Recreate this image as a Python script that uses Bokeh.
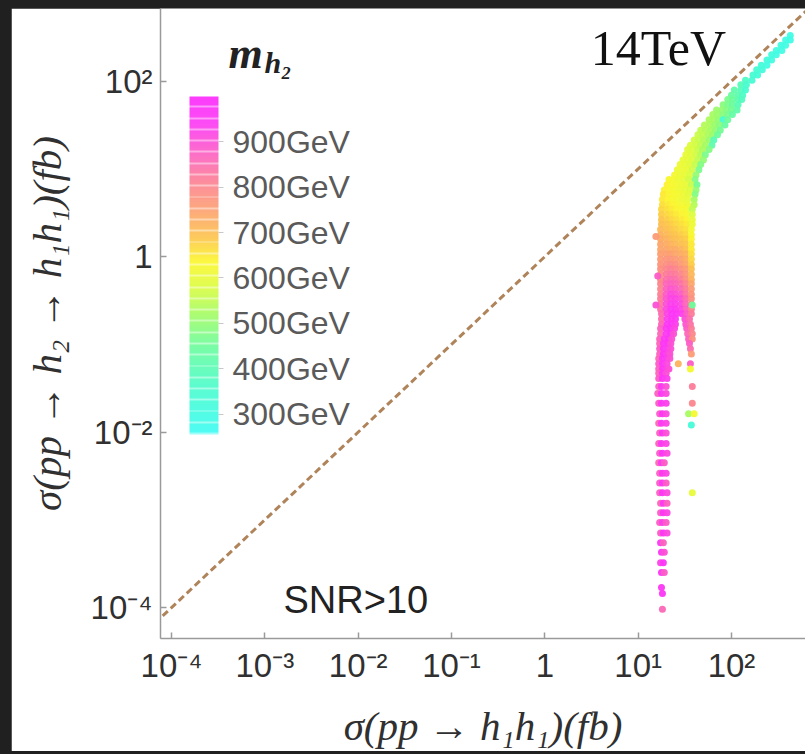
from bokeh.plotting import figure
from bokeh.layouts import column
from bokeh.models import (LinearColorMapper, ColorBar, FixedTicker, Slope, Label,
                          ColumnDataSource, Range1d)
from bokeh.embed import file_html
from bokeh.resources import INLINE

# ---------------- data ----------------
X_TICKS = [1e-4, 1e-3, 1e-2, 1e-1, 1, 10, 100]
X_TICK_LABELS = ["10⁻⁴", "10⁻³", "10⁻²", "10⁻¹", "1", "10¹", "10²"]
Y_TICKS = [1e-4, 1e-2, 1, 100]
Y_TICK_LABELS = ["10⁻⁴", "10⁻²", "1", "10²"]
CBAR_TICKS = [300, 400, 500, 600, 700, 800, 900]
CBAR_LABELS = ["300GeV", "400GeV", "500GeV", "600GeV", "700GeV", "800GeV", "900GeV"]
MASS_LOW, MASS_HIGH = 255, 1000

# scan points, grouped in rows of equal log10(sigma(pp->h2->h1h1)/fb)
rows_log10_sigma_h2 = [
    2.52, 2.47, 2.41, 2.35, 2.30, 2.24, 2.18, 2.13, 2.07, 2.01,
    1.96, 1.90, 1.84, 1.79, 1.73, 1.67, 1.62, 1.56, 1.50, 1.44,
    1.39, 1.33, 1.27, 1.22, 1.16, 1.10, 1.05, 0.99, 0.93, 0.88,
    0.82, 0.76, 0.71, 0.65, 0.59, 0.54, 0.48, 0.42, 0.37, 0.31,
    0.25, 0.20, 0.14, 0.08, 0.03, -0.03, -0.09, -0.14, -0.20, -0.26,
    -0.31, -0.37, -0.43, -0.48, -0.54, -0.60, -0.65, -0.71, -0.77, -0.82,
    -0.88, -0.94, -0.99, -1.05, -1.11, -1.16, -1.22, -1.28, -1.33, -1.39,
    -1.48, -1.56, -1.67, -1.79, -1.90, -1.92, -2.01, -2.13, -2.24, -2.35,
    -2.47, -2.58, -2.69, -2.81, -2.92, -3.03, -3.15, -3.26, -3.37, -3.49,
    -3.60, -3.77, -3.84, -4.02, 0.23, -0.22, -0.55,
]
# log10(sigma(pp->h1h1)/fb) of the points in each row
rows_log10_sigma_hh = [
    [2.63], [2.58, 2.63], [2.53, 2.58], [2.48, 2.54], [2.43, 2.48],
    [2.38, 2.43], [2.32, 2.38], [2.27, 2.33], [2.23, 2.28], [2.15, 2.22],
    [2.10, 2.16], [2.03, 2.10, 2.15], [2.00, 2.07, 2.12], [1.96, 2.01, 2.07, 2.11],
    [1.91, 1.96, 2.01, 2.07], [1.84, 1.90, 1.95, 2.00, 2.06], [1.80, 1.85, 1.91, 1.96, 2.01],
    [1.76, 1.81, 1.86, 1.91, 1.96], [1.71, 1.77, 1.82, 1.87, 1.93], [1.67, 1.72, 1.78, 1.83, 1.88],
    [1.64, 1.69, 1.75, 1.80, 1.85], [1.60, 1.65, 1.70, 1.76, 1.81], [1.56, 1.62, 1.67, 1.72, 1.79],
    [1.53, 1.58, 1.64, 1.69, 1.76], [1.51, 1.56, 1.62, 1.67, 1.72], [1.48, 1.53, 1.58, 1.64, 1.70],
    [1.45, 1.50, 1.55, 1.61, 1.67], [1.42, 1.48, 1.53, 1.58, 1.65], [1.39, 1.45, 1.50, 1.55, 1.62],
    [1.33, 1.38, 1.43, 1.49, 1.54, 1.61],
    [1.31, 1.36, 1.41, 1.47, 1.52, 1.57, 1.63],
    [1.28, 1.34, 1.39, 1.45, 1.50, 1.55, 1.62],
    [1.27, 1.33, 1.38, 1.43, 1.49, 1.54, 1.61],
    [1.26, 1.32, 1.37, 1.42, 1.48, 1.53, 1.60],
    [1.26, 1.32, 1.37, 1.42, 1.48, 1.53, 1.60],
    [1.25, 1.31, 1.36, 1.41, 1.47, 1.52, 1.58],
    [1.25, 1.31, 1.36, 1.41, 1.47, 1.52, 1.58],
    [1.25, 1.31, 1.36, 1.41, 1.47, 1.52, 1.58],
    [1.25, 1.31, 1.36, 1.41, 1.47, 1.52, 1.58],
    [1.24, 1.30, 1.35, 1.40, 1.46, 1.51, 1.57],
    [1.24, 1.30, 1.35, 1.40, 1.46, 1.51, 1.57],
    [1.24, 1.30, 1.35, 1.40, 1.46, 1.51, 1.57],
    [1.24, 1.30, 1.35, 1.40, 1.46, 1.51, 1.57],
    [1.24, 1.30, 1.35, 1.40, 1.46, 1.51, 1.57],
    [1.24, 1.30, 1.35, 1.40, 1.46, 1.51, 1.57],
    [1.24, 1.30, 1.35, 1.40, 1.46, 1.51, 1.57],
    [1.24, 1.30, 1.35, 1.40, 1.46, 1.51, 1.57],
    [1.24, 1.30, 1.35, 1.40, 1.46, 1.51, 1.57],
    [1.24, 1.30, 1.35, 1.40, 1.46, 1.51, 1.57],
    [1.24, 1.30, 1.35, 1.40, 1.46, 1.51, 1.57],
    [1.24, 1.30, 1.35, 1.40, 1.46, 1.51, 1.57],
    [1.24, 1.30, 1.35, 1.40, 1.46, 1.51, 1.57],
    [1.24, 1.30, 1.35, 1.40, 1.46, 1.51, 1.57],
    [1.24, 1.30, 1.35, 1.40, 1.46, 1.51, 1.57],
    [1.24, 1.30, 1.35, 1.40, 1.46, 1.51, 1.57],
    [1.24, 1.30, 1.35, 1.40, 1.46, 1.51, 1.57],
    [1.25, 1.31, 1.36, 1.41, 1.47, 1.52, 1.57],
    [1.25, 1.31, 1.36, 1.40, 1.50, 1.55],
    [1.25, 1.31, 1.36, 1.40, 1.51, 1.56],
    [1.24, 1.30, 1.35, 1.39, 1.52, 1.57],
    [1.24, 1.30, 1.35, 1.38, 1.53, 1.58],
    [1.23, 1.28, 1.33, 1.36, 1.54, 1.58],
    [1.23, 1.27, 1.32, 1.35, 1.55],
    [1.23, 1.27, 1.32, 1.35, 1.56],
    [1.23, 1.27, 1.32, 1.34, 1.57],
    [1.22, 1.26, 1.31, 1.34],
    [1.22, 1.26, 1.31, 1.43, 1.56],
    [1.22, 1.26, 1.31, 1.33, 1.56],
    [1.22, 1.26, 1.30],
    [1.22, 1.26, 1.31],
    [1.22, 1.25, 1.30, 1.58],
    [1.21, 1.25, 1.30],
    [1.22, 1.25, 1.30, 1.58],
    [1.23, 1.26, 1.30, 1.54, 1.60],
    [1.22, 1.25, 1.30],
    [1.57],
    [1.23, 1.26, 1.30],
    [1.22, 1.25, 1.30],
    [1.23, 1.26, 1.31],
    [1.22, 1.25, 1.28],
    [1.23, 1.26, 1.30],
    [1.23, 1.26, 1.30],
    [1.23, 1.26, 1.31, 1.58],
    [1.24, 1.27, 1.31],
    [1.24, 1.27, 1.31],
    [1.23, 1.26, 1.30],
    [1.24, 1.27, 1.31],
    [1.24, 1.27],
    [1.25, 1.28],
    [1.24, 1.27],
    [1.25, 1.28],
    [1.25],
    [1.26],
    [1.26],
    [1.19],
    [1.21],
    [1.19, 1.58],
]
# m_h2 (GeV) of the points in each row
rows_m_h2 = [
    [300], [300, 290], [310, 300], [310, 300], [320, 300],
    [320, 310], [330, 310], [340, 320], [350, 330], [370, 340],
    [390, 350], [420, 390, 350], [440, 410, 370], [470, 450, 420, 380],
    [490, 470, 450, 400], [510, 500, 480, 460, 420], [520, 510, 490, 470, 430],
    [530, 520, 500, 340, 450], [540, 530, 510, 490, 440], [550, 540, 520, 500, 460],
    [560, 550, 530, 510, 450], [570, 560, 540, 510, 400], [580, 570, 550, 520, 420],
    [590, 580, 560, 530, 480], [600, 590, 570, 540, 470], [600, 600, 580, 550, 500],
    [610, 600, 590, 560, 480], [610, 610, 600, 570, 470], [620, 610, 600, 580, 500],
    [630, 620, 610, 600, 570, 480],
    [640, 630, 620, 610, 600, 560, 460],
    [640, 630, 620, 610, 600, 580, 500],
    [650, 640, 630, 620, 610, 590, 480],
    [650, 640, 630, 620, 610, 600, 520],
    [660, 650, 640, 630, 620, 610, 540],
    [670, 660, 650, 640, 630, 620, 550],
    [680, 670, 660, 650, 640, 630, 580],
    [690, 680, 670, 660, 650, 640, 600],
    [700, 690, 680, 670, 660, 650, 610],
    [710, 700, 690, 680, 670, 660, 620],
    [720, 710, 700, 690, 680, 670, 630],
    [730, 720, 710, 700, 690, 680, 640],
    [740, 730, 720, 710, 700, 690, 650],
    [740, 740, 730, 730, 720, 700, 650],
    [750, 750, 750, 740, 730, 720, 660],
    [760, 770, 770, 760, 750, 730, 670],
    [770, 780, 790, 780, 760, 740, 680],
    [780, 800, 810, 800, 780, 760, 700],
    [780, 820, 830, 820, 800, 770, 710],
    [790, 840, 850, 840, 820, 780, 720],
    [800, 860, 870, 860, 840, 800, 740],
    [800, 870, 890, 880, 860, 820, 760],
    [810, 880, 910, 900, 880, 830, 770],
    [820, 890, 920, 920, 900, 850, 780],
    [830, 900, 930, 930, 910, 860, 790],
    [840, 910, 940, 940, 920, 870, 800],
    [850, 920, 950, 950, 930, 880, 820],
    [850, 930, 950, 940, 900, 850],
    [860, 940, 950, 930, 890, 840],
    [870, 940, 950, 920, 880, 820],
    [860, 940, 950, 900, 860, 800],
    [870, 940, 950, 900, 870, 780],
    [860, 940, 950, 900, 880],
    [880, 950, 930, 900, 850],
    [870, 950, 920, 900, 760],
    [860, 950, 930, 900],
    [880, 940, 910, 720, 880],
    [870, 950, 920, 900, 620],
    [860, 940, 900],
    [880, 950, 930],
    [870, 940, 900, 820],
    [870, 950, 910],
    [880, 940, 930, 800],
    [880, 950, 910, 520, 620],
    [860, 940, 920],
    [330],
    [870, 950, 900],
    [870, 940, 920],
    [880, 950, 910],
    [860, 940, 880],
    [870, 950, 920],
    [880, 940, 880],
    [870, 950, 910, 600],
    [860, 940, 870],
    [880, 950, 920],
    [870, 930, 880],
    [880, 950, 910],
    [940, 870],
    [950, 900],
    [920, 950],
    [950, 880],
    [940],
    [950],
    [860],
    [760],
    [880],
    [900, 450],
]

# ---------------- styling helpers ----------------
CMAP_MASS = [255, 350, 450, 520, 580, 635, 690, 750, 820, 880, 940, 1000]
CMAP_COLORS = ["#3cfcf4", "#48fcd0", "#6cfc9c", "#a4fc64", "#dcfc40", "#fcf82c",
               "#fcc44c", "#fca070", "#fc7c98", "#fc5cc8", "#fc38f4", "#fc28fc"]


def _rgb(h):
    return [int(h[i:i + 2], 16) for i in (1, 3, 5)]


def ramp(n, lighten_every=0):
    out = []
    for i in range(n):
        m = MASS_LOW + (MASS_HIGH - MASS_LOW) * (i + 0.5) / n
        k = 0
        while k < len(CMAP_MASS) - 2 and m > CMAP_MASS[k + 1]:
            k += 1
        t = (m - CMAP_MASS[k]) / (CMAP_MASS[k + 1] - CMAP_MASS[k])
        t = min(max(t, 0.0), 1.0)
        a, b = _rgb(CMAP_COLORS[k]), _rgb(CMAP_COLORS[k + 1])
        c = [a[j] + (b[j] - a[j]) * t for j in range(3)]
        if lighten_every and i % lighten_every == 0:
            c = [v + (255 - v) * 0.45 for v in c]
        out.append("#%02x%02x%02x" % tuple(int(round(v)) for v in c))
    return out


# ---------------- flatten data ----------------
xs, ys, ms = [], [], []
for ly, lxs, mrow in zip(rows_log10_sigma_h2, rows_log10_sigma_hh, rows_m_h2):
    for lx, m in zip(lxs, mrow):
        xs.append(10 ** lx)
        ys.append(10 ** ly)
        ms.append(m)
src = ColumnDataSource(dict(sigma_hh=xs, sigma_h2=ys, m_h2=ms))

mapper = LinearColorMapper(palette=ramp(256), low=MASS_LOW, high=MASS_HIGH)
bar_mapper = LinearColorMapper(palette=ramp(180, lighten_every=6), low=MASS_LOW, high=MASS_HIGH)

# ---------------- figure ----------------
p = figure(width=794, height=743, x_axis_type="log", y_axis_type="log",
           x_range=Range1d(10 ** -4.118, 10 ** 2.793),
           y_range=Range1d(10 ** -4.352, 10 ** 2.828),
           output_backend="svg", toolbar_location=None,
           min_border_left=149, min_border_right=0, min_border_top=0,
           min_border_bottom=110)
p.outline_line_color = None
p.grid.visible = False
p.background_fill_color = "white"
p.border_fill_color = "white"

for ax in (p.xaxis[0], p.yaxis[0]):
    ax.axis_line_color = "#9a9a9a"
    ax.axis_line_width = 1.5
    ax.major_tick_line_color = "#9a9a9a"
    ax.major_tick_line_width = 1.5
    ax.major_tick_in = 6
    ax.major_tick_out = 0
    ax.minor_tick_line_color = None
    ax.major_label_text_font = "Liberation Sans"
    ax.major_label_text_font_size = "33px"
    ax.major_label_text_color = "#303030"
    ax.axis_label_text_font = "Liberation Serif"
    ax.axis_label_text_font_style = "italic"
    ax.axis_label_text_font_size = "41px"
    ax.axis_label_text_color = "#303030"

p.xaxis.ticker = FixedTicker(ticks=X_TICKS)
p.xaxis.major_label_overrides = dict(zip(X_TICKS, X_TICK_LABELS))
p.yaxis.ticker = FixedTicker(ticks=Y_TICKS)
p.yaxis.major_label_overrides = dict(zip(Y_TICKS, Y_TICK_LABELS))
p.xaxis.major_label_standoff = 8
p.yaxis.major_label_standoff = 8
p.xaxis.axis_label = "σ(pp → h₁h₁)(fb)"
p.yaxis.axis_label = "σ(pp → h₂ → h₁h₁)(fb)"
p.xaxis.axis_label_standoff = 16
p.yaxis.axis_label_standoff = 18

# diagonal sigma(h2) = sigma(hh)
p.add_layout(Slope(gradient=1, y_intercept=0, line_color="#b0845a",
                   line_width=3, line_dash="7 4"))

p.scatter("sigma_hh", "sigma_h2", source=src, size=7, marker="circle",
          fill_color={"field": "m_h2", "transform": mapper},
          line_color=None, fill_alpha=0.95)

# annotations
p.add_layout(Label(x=10 ** 0.491, y=10 ** 2.374, text="14TeV",
                   text_font="Liberation Serif", text_font_size="50px",
                   text_baseline="alphabetic", text_color="#111111"))
p.add_layout(Label(x=10 ** -3.389, y=10 ** 2.317, text="m",
                   text_font="Liberation Serif", text_font_size="44px",
                   text_baseline="alphabetic",
                   text_font_style="bold italic", text_color="#222222"))
p.add_layout(Label(x=10 ** -3.003, y=10 ** 2.215, text="h₂",
                   text_font="Liberation Serif", text_font_size="30px",
                   text_baseline="alphabetic",
                   text_font_style="bold italic", text_color="#222222"))
p.add_layout(Label(x=10 ** -2.80, y=10 ** -3.918, text="SNR>10",
                   text_font="Liberation Sans", text_font_size="38px",
                   text_baseline="alphabetic", text_color="#222222"))

cbar = ColorBar(color_mapper=bar_mapper, location=(29, 204), width=29, height=338,
                padding=0, ticker=FixedTicker(ticks=CBAR_TICKS),
                major_label_overrides=dict(zip(CBAR_TICKS, CBAR_LABELS)),
                major_label_text_font="Liberation Sans",
                major_label_text_font_size="32px",
                major_label_text_color="#5a5a5a",
                major_tick_in=0, major_tick_out=5,
                major_tick_line_color="#c8c8c8", label_standoff=9,
                bar_line_color=None, border_line_color=None,
                background_fill_color=None, scale_alpha=0.9)
p.add_layout(cbar)

page = column(p, styles={"background-color": "#202020",
                         "padding": "8px 0px 3px 11px"})

open("out.html", "w").write(file_html(page, INLINE))
